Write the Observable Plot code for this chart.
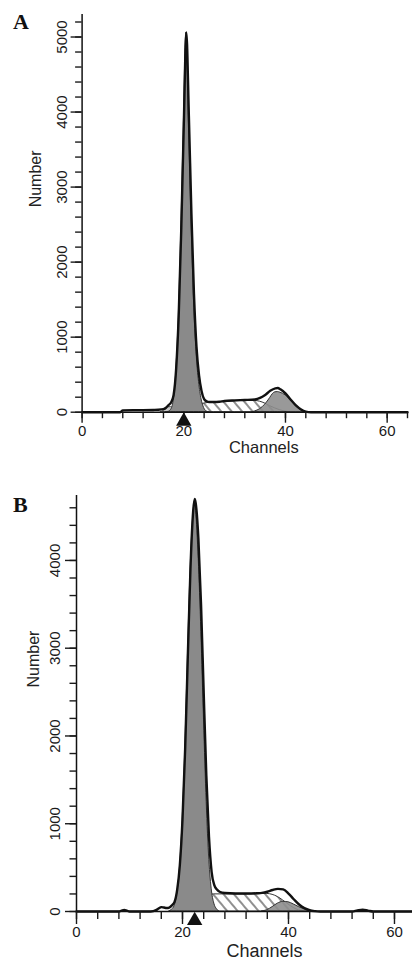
<!DOCTYPE html>
<html><head><meta charset="utf-8">
<script src="https://cdn.jsdelivr.net/npm/d3@7"></script>
<script src="https://cdn.jsdelivr.net/npm/@observablehq/plot@0.6"></script>
<style>
body{margin:0;background:#fff;width:412px;}
.panel{position:relative;width:412px;}
.letter{position:absolute;left:13px;font:bold 22px "Liberation Serif","Times New Roman",serif;line-height:1;color:#111;}
svg{display:block}
</style></head><body>
<div id="A" class="panel"><div class="letter" style="top:11px">A</div></div>
<div id="B" class="panel"><div class="letter" style="top:14px">B</div></div>
<script>
// ---------- Panel A data (channel, number) ----------
const aEnvCh = [0,7.5,8,10,12,14,15,16,16.5,17,17.5,18,18.5,19,19.5,20,20.5,21,21.5,22,22.5,23,23.5,24,24.5,25,26,27,28,30,32,34,35,36,37,38,38.5,39,40,41,42,43,44,45,64];
const aEnvN  = [0,0,25,28,28,30,32,40,60,95,130,230,580,1290,2430,3830,5060,3950,2650,1580,870,490,280,175,145,135,135,140,150,158,163,170,190,230,285,318,322,305,250,170,95,40,8,0,0];
const aG1Ch = [16.5,17,17.5,18,18.5,19,19.5,20,20.5,21,21.5,22,22.5,23,23.5,24,24.5,25];
const aG1N  = [0,5,30,150,520,1250,2400,3800,5060,3900,2600,1500,800,400,170,55,10,0];
const aDebCh = [15.5,16,16.5,17,17.5,18,18.5,19,19.5];
const aDebN  = [0,15,45,65,68,55,30,10,0];
const aSCh = [19.5,20,21,22,23,24,25,26,28,30,32,34,35,36,37,38,39,40,41];
const aSN  = [0,8,30,70,100,115,125,130,140,145,150,150,140,115,80,50,25,8,0];
const aG2Ch = [33.5,34,35,36,37,37.5,38,38.5,39,40,41,42,43,44];
const aG2N  = [0,10,40,100,190,240,265,268,260,225,160,85,28,0];
const aMarker = [20];

// ---------- Panel B data ----------
const bEnvCh = [0,8,8.5,9,9.5,10,14,15,15.5,16,16.5,17,17.5,18,18.5,19,19.5,20,20.5,21,21.5,22,22.3,22.5,23,23.5,24,24.5,25,25.5,26,26.5,27,28,30,32,34,35,36,37,38,39,40,41,42,43,44,45,46,52,53,54,55,56,63.4];
const bEnvN  = [0,0,10,18,10,0,0,15,35,50,45,40,45,70,110,250,530,1050,1850,2900,3900,4550,4700,4650,4250,3500,2500,1550,850,450,300,250,225,210,205,205,208,212,225,245,258,252,205,140,80,38,14,4,0,0,12,20,10,0,0];
const bG1Ch = [17.5,18,18.5,19,19.5,20,20.5,21,21.5,22,22.3,22.5,23,23.5,24,24.5,25,25.5,26,26.5,27];
const bG1N  = [0,20,60,200,480,1000,1800,2850,3850,4480,4650,4600,4100,3300,2300,1350,650,260,90,25,0];
const bSCh = [20.5,21,22,23,24,25,26,28,30,32,34,35,36,37,38,39,40,41,42,43];
const bSN  = [0,40,100,160,190,195,195,195,195,195,197,200,200,190,165,125,80,40,12,0];
const bG2Ch = [35,36,37,38,39,40,41,42,43,44,45];
const bG2N  = [0,15,50,90,110,105,80,50,25,8,0];
const bMarker = [22.3];

// ---------- Axis ticks ----------
const xMajorTicks = [0,20,40,60];
const xMinorTicksA = d3.range(0, 65, 4);
const xMinorTicksB = d3.range(0, 64, 4);
const yMajorTicksA = [0,1000,2000,3000,4000,5000];
const yMinorTicksA = d3.range(0, 5201, 200);
const yMajorTicksB = [0,1000,2000,3000,4000];
const yMinorTicksB = d3.range(0, 4601, 200);

const zip = (ch, n) => ch.map((c, i) => ({ch: c, n: n[i]}));

function addHatch(svg, id, spacing) {
  const ns = "http://www.w3.org/2000/svg";
  const defs = document.createElementNS(ns, "defs");
  const p = document.createElementNS(ns, "pattern");
  p.setAttribute("id", id);
  p.setAttribute("patternUnits", "userSpaceOnUse");
  p.setAttribute("width", spacing);
  p.setAttribute("height", spacing);
  p.setAttribute("patternTransform", "rotate(-40)");
  const r = document.createElementNS(ns, "rect");
  r.setAttribute("width", spacing); r.setAttribute("height", spacing); r.setAttribute("fill", "#fff");
  const l = document.createElementNS(ns, "line");
  l.setAttribute("x1", 1); l.setAttribute("y1", 0); l.setAttribute("x2", 1); l.setAttribute("y2", spacing);
  l.setAttribute("stroke", "#555"); l.setAttribute("stroke-width", 1.3);
  p.appendChild(r); p.appendChild(l); defs.appendChild(p);
  svg.insertBefore(defs, svg.firstChild);
}

function panel(cfg) {
  const curve = "monotone-x";
  const marks = [
    Plot.areaY(zip(cfg.sCh, cfg.sN), {x: "ch", y: "n", curve, fill: `url(#${cfg.hatchId})`, stroke: "#333", strokeWidth: 1}),
    Plot.areaY(zip(cfg.g2Ch, cfg.g2N), {x: "ch", y: "n", curve, fill: "#8e8e8e", fillOpacity: 0.9, stroke: "#333", strokeWidth: 1}),
  ];
  if (cfg.debCh) marks.push(Plot.areaY(zip(cfg.debCh, cfg.debN), {x: "ch", y: "n", curve, fill: "#c8c8c8", stroke: "#555", strokeWidth: 1}));
  marks.push(
    Plot.areaY(zip(cfg.g1Ch, cfg.g1N), {x: "ch", y: "n", curve, fill: "#8a8a8a", stroke: "#333", strokeWidth: 1}),
    Plot.lineY(zip(cfg.envCh, cfg.envN), {x: "ch", y: "n", curve, stroke: "#111", strokeWidth: 2.4}),
    Plot.ruleY([0], {stroke: "#111", strokeWidth: 1.5}),
    Plot.ruleX([0], {stroke: "#111", strokeWidth: 1.5}),
    Plot.axisX(cfg.xMinor, {tickSize: cfg.xMinorSize, tickFormat: () => "", strokeWidth: 1.4, label: null}),
    Plot.axisX(xMajorTicks, {tickSize: cfg.xMajorSize, tickPadding: 2, tickFormat: d => String(d), strokeWidth: 1.4, label: null, fontSize: 15}),
    Plot.axisY(cfg.yMinor, {tickSize: 6.5, tickFormat: () => "", strokeWidth: 1.4, label: null}),
    Plot.axisY(cfg.yMajor, {tickSize: 11, tickPadding: cfg.yPad, tickRotate: -90, textAnchor: "middle", lineAnchor: "middle", tickFormat: d => String(d), strokeWidth: 1.4, label: null, fontSize: 15}),
    Plot.dot(cfg.marker, {x: d => d, y: () => 0, symbol: "triangle", r: 5.7, fill: "#111", stroke: "none", dy: 9}),
    Plot.text(["Number"], {text: d => d, frameAnchor: "left", rotate: -90, dx: cfg.numDx, dy: cfg.numDy, fontSize: 16, fill: "#222"}),
    Plot.text(["Channels"], {text: d => d, frameAnchor: "bottom", dx: cfg.chDx, dy: cfg.chDy, fontSize: cfg.chSize, fill: "#222"})
  );
  const svg = Plot.plot({
    width: 412, height: cfg.height,
    marginLeft: cfg.ml, marginRight: cfg.mr, marginTop: cfg.mt, marginBottom: cfg.mb,
    x: {domain: cfg.xDomain, axis: null},
    y: {domain: cfg.yDomain, axis: null},
    style: {fontFamily: "'Liberation Sans', Arial, sans-serif", fontSize: "15px", color: "#1a1a1a", background: "white", overflow: "visible"},
    marks
  });
  addHatch(svg, cfg.hatchId, 8);
  document.getElementById(cfg.el).appendChild(svg);
}

panel({
  el: "A", hatchId: "hatchA", height: 480,
  ml: 81.6, mr: 5, mt: 14, mb: 68.3,
  xDomain: [0, 64], yDomain: [0, 5300],
  envCh: aEnvCh, envN: aEnvN, g1Ch: aG1Ch, g1N: aG1N, debCh: aDebCh, debN: aDebN,
  sCh: aSCh, sN: aSN, g2Ch: aG2Ch, g2N: aG2N, marker: aMarker,
  xMinor: xMinorTicksA, yMinor: yMinorTicksA, yMajor: yMajorTicksA,
  xMinorSize: 6.5, xMajorSize: 11, yPad: 8.5,
  numDx: -46, numDy: -6, chDx: 19, chDy: 41, chSize: 16.5
});
panel({
  el: "B", hatchId: "hatchB", height: 486,
  ml: 76, mr: 0, mt: 15, mb: 55,
  xDomain: [0, 63.4], yDomain: [0, 4740],
  envCh: bEnvCh, envN: bEnvN, g1Ch: bG1Ch, g1N: bG1N,
  sCh: bSCh, sN: bSN, g2Ch: bG2Ch, g2N: bG2N, marker: bMarker,
  xMinor: xMinorTicksB, yMinor: yMinorTicksB, yMajor: yMajorTicksB,
  xMinorSize: 8, xMajorSize: 13, yPad: 10.5,
  numDx: -43, numDy: -16, chDx: 20, chDy: 45, chSize: 18
});
</script>
</body></html>
